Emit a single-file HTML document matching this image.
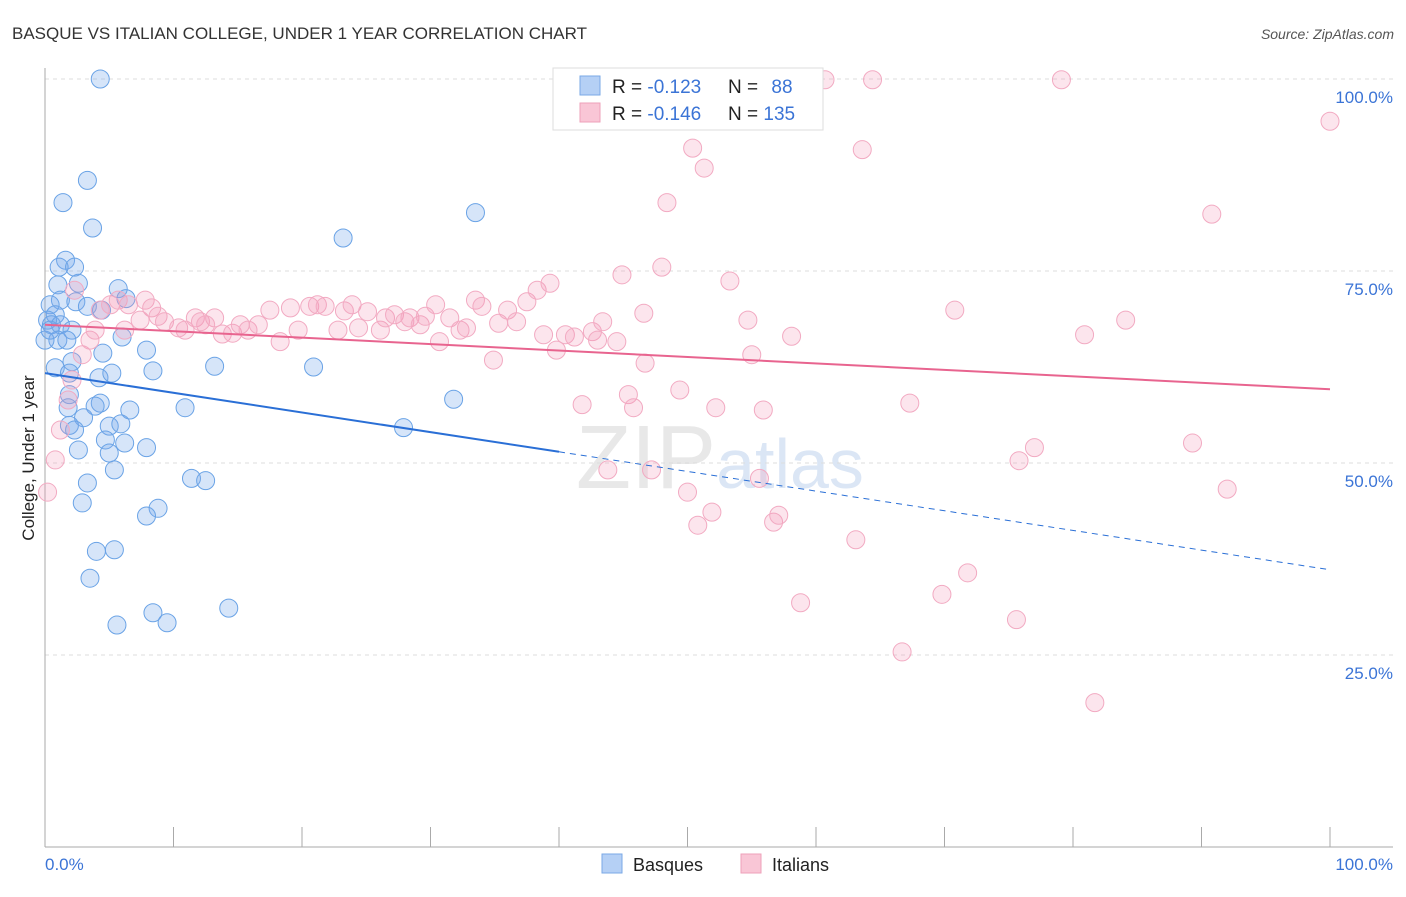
<!DOCTYPE html>
<html><head><meta charset="utf-8"><style>
body{margin:0;background:#fff;font-family:"Liberation Sans",sans-serif}
svg text{font-family:"Liberation Sans",sans-serif}
</style></head><body>
<svg id="chart" width="1406" height="892" xmlns="http://www.w3.org/2000/svg">
<text x="12" y="39" font-size="17" fill="#333">BASQUE VS ITALIAN COLLEGE, UNDER 1 YEAR CORRELATION CHART</text>
<text x="1394" y="39" font-size="14" fill="#555" font-style="italic" text-anchor="end">Source: ZipAtlas.com</text>
<text x="720" y="488" font-size="90" fill="#e8e8e8" text-anchor="middle" font-family="Liberation Serif">ZIP<tspan fill="#dbe6f5" font-family="Liberation Sans" font-size="70">atlas</tspan></text>
<g id="grid"></g>
<g id="axes"></g>
<g id="pts"></g>
<g id="trends"></g>
<text transform="translate(34,458) rotate(-90)" font-size="17" fill="#222" text-anchor="middle">College, Under 1 year</text>
<text x="45" y="870" font-size="17" fill="#3b74d6">0.0%</text>
<text x="1393" y="870" font-size="17" fill="#3b74d6" text-anchor="end">100.0%</text>
<g>
<rect x="553" y="68" width="270" height="62" fill="#fff" stroke="#ddd"/>
<rect x="580" y="76" width="20" height="19" fill="#b5d0f5" stroke="#7aa8e6"/>
<rect x="580" y="103" width="20" height="19" fill="#f9c6d6" stroke="#eea0b9"/>
<text x="612" y="93" font-size="19" fill="#222">R = <tspan fill="#3b74d6">-0.123</tspan></text>
<text x="728" y="93" font-size="19" fill="#222">N = <tspan fill="#3b74d6" dx="8">88</tspan></text>
<text x="612" y="120" font-size="19" fill="#222">R = <tspan fill="#3b74d6">-0.146</tspan></text>
<text x="728" y="120" font-size="19" fill="#222">N = <tspan fill="#3b74d6">135</tspan></text>
</g>
<g>
<rect x="602" y="854" width="20" height="19" fill="#b5d0f5" stroke="#7aa8e6"/>
<text x="633" y="871" font-size="18" fill="#222">Basques</text>
<rect x="741" y="854" width="20" height="19" fill="#f9c6d6" stroke="#eea0b9"/>
<text x="772" y="871" font-size="18" fill="#222">Italians</text>
</g>
</svg>
<script>
const yTicks=[25,50,75,100];
const yTickLabels=["25.0%","50.0%","75.0%","100.0%"];
const xTicks=[0,10,20,30,40,50,60,70,80,90,100];
const blueX=[4.3,3.3,1.4,3.7,23.2,33.5,1.6,1.1,2.3,2.6,1.0,5.7,6.3,1.2,2.4,3.3,4.4,0.4,0.8,0.2,0.5,1.2,2.1,1.0,1.7,6.0,7.9,4.5,2.1,0.8,8.4,13.2,20.9,1.9,4.2,5.2,1.9,4.3,3.9,10.9,6.6,1.8,3.0,1.9,2.3,5.0,5.9,4.7,6.2,7.9,2.6,5.0,5.4,11.4,12.5,3.3,2.9,8.8,7.9,4.0,5.4,3.5,8.4,9.5,14.3,5.6,31.8,27.9,0,0.4];
const blueY=[100,86.8,83.9,80.6,79.3,82.6,76.4,75.5,75.5,73.4,73.2,72.7,71.4,71.2,71.0,70.4,69.9,70.6,69.3,68.6,68.0,68.0,67.3,66.0,66.0,66.4,64.7,64.3,63.2,62.4,62.0,62.6,62.5,61.7,61.1,61.7,58.9,57.8,57.4,57.2,56.9,57.2,55.9,54.9,54.3,54.8,55.1,53.0,52.6,52.0,51.7,51.3,49.1,48.0,47.7,47.4,44.8,44.1,43.1,38.5,38.7,35.0,30.5,29.2,31.1,28.9,58.3,54.6,66.0,67.3];
const pinkX=[4.3,0.2,0.8,1.2,1.8,2.1,2.9,3.5,3.9,5.1,5.7,6.5,7.8,8.3,8.8,9.3,10.4,10.9,11.7,12.1,13.2,12.5,13.8,14.6,15.2,15.8,16.6,17.5,18.3,19.1,19.7,20.6,21.2,21.8,22.8,23.3,23.9,24.4,25.1,26.1,26.5,27.2,28.0,28.4,29.2,29.6,30.4,30.7,31.5,32.3,32.8,33.5,34.0,34.9,35.3,36.0,36.7,37.5,38.3,38.8,39.3,39.8,40.5,41.2,41.8,42.6,43.0,43.4,43.8,44.5,44.9,45.4,45.8,46.6,46.7,47.2,48.0,48.4,49.4,50.0,50.4,50.8,51.3,51.9,52.2,53.3,54.7,55.0,55.6,55.9,56.7,57.1,58.1,58.8,60.7,63.1,63.6,64.4,66.7,67.3,69.8,70.8,71.8,75.6,75.8,77.0,79.1,80.9,81.7,84.1,89.3,90.8,92.0,100,56.4,2.3,6.2,7.4];
const pinkY=[69.9,46.2,50.4,54.3,58.2,60.8,64.1,66.0,67.3,70.6,71.2,70.6,71.2,70.2,69.1,68.4,67.6,67.3,68.9,68.4,68.9,68.0,66.8,66.9,68.0,67.3,68.0,69.9,65.8,70.2,67.3,70.4,70.6,70.4,67.3,69.8,70.6,67.6,69.7,67.3,68.9,69.3,68.4,68.9,68.0,69.1,70.6,65.8,68.9,67.3,67.6,71.2,70.4,63.4,68.2,69.9,68.4,71.0,72.5,66.7,73.4,64.7,66.7,66.4,57.6,67.1,66.0,68.4,49.1,65.8,74.5,58.9,57.2,69.5,63.0,49.1,75.5,83.9,59.5,46.2,91.0,41.9,88.4,43.6,57.2,73.7,68.6,64.1,48.0,56.9,42.3,43.2,66.5,31.8,99.9,40.0,90.8,99.9,25.4,57.8,32.9,69.9,35.7,29.6,50.3,52.0,99.9,66.7,18.8,68.6,52.6,82.4,46.6,94.5,99.9,72.5,67.3,68.6];
const blueTrend=[61.7,36.1]; // y at x=0 and x=100
const blueSolidEnd=40;
const pinkTrend=[68.0,59.6];
const NS="http://www.w3.org/2000/svg";
const X0=45,X1=1330,Y0=847,Y100=79;
const sx=v=>X0+(X1-X0)*v/100, sy=v=>Y0-(Y0-Y100)*v/100;
function mk(t,a,p){const e=document.createElementNS(NS,t);for(const k in a)e.setAttribute(k,a[k]);p.appendChild(e);return e;}
const grid=document.getElementById('grid'),axes=document.getElementById('axes'),pts=document.getElementById('pts'),tr=document.getElementById('trends');
yTicks.forEach((v,i)=>{
  const l=mk('line',{x1:X0,x2:1393,y1:sy(v),y2:sy(v),stroke:'#ddd','stroke-dasharray':'4,4'},grid);
  
  
  const t=mk('text',{x:1393,y:sy(v)+24,'font-size':17,fill:'#3b74d6','text-anchor':'end'},axes);
  t.textContent=yTickLabels[i];
  
  
});
mk('line',{x1:X0,x2:X0,y1:68,y2:Y0,stroke:'#aaa'},axes);
mk('line',{x1:X0,x2:1393,y1:Y0,y2:Y0,stroke:'#aaa'},axes);
xTicks.forEach(v=>{
  const l=mk('line',{x1:sx(v),x2:sx(v),y1:827,y2:Y0,stroke:'#aaa'},axes);
  
  
});
blueX.forEach((x,i)=>{
  const c=mk('circle',{cx:sx(x),cy:sy(blueY[i]),r:9,fill:'rgba(120,170,235,0.3)',stroke:'#6aa3e6','stroke-width':1},pts);
  
  
});
pinkX.forEach((x,i)=>{
  const c=mk('circle',{cx:sx(x),cy:sy(pinkY[i]),r:9,fill:'rgba(244,150,182,0.25)',stroke:'#f2aac2','stroke-width':1},pts);
  
  
});
const by=x=>blueTrend[0]+(blueTrend[1]-blueTrend[0])*x/100;
let l1=mk('line',{x1:sx(0),y1:sy(by(0)),x2:sx(blueSolidEnd),y2:sy(by(blueSolidEnd)),stroke:'#2a6fd6','stroke-width':2},tr);


let l2=mk('line',{x1:sx(blueSolidEnd),y1:sy(by(blueSolidEnd)),x2:sx(100),y2:sy(by(100)),stroke:'#2a6fd6','stroke-width':1,'stroke-dasharray':'6,5'},tr);


let l3=mk('line',{x1:sx(0),y1:sy(pinkTrend[0]),x2:sx(100),y2:sy(pinkTrend[1]),stroke:'#e8648f','stroke-width':2},tr);


</script>
</body></html>
